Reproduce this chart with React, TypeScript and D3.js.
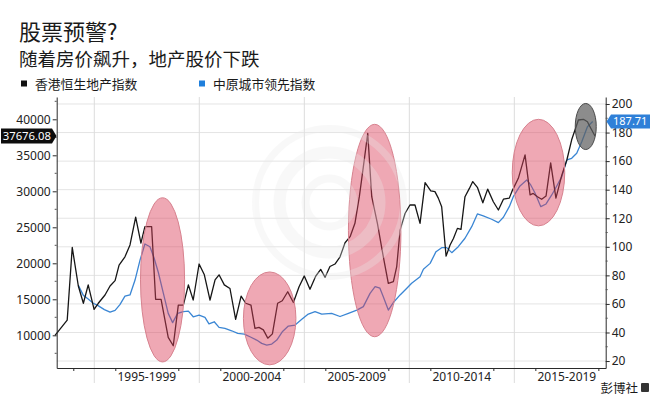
import React, { useEffect, useRef } from "react";
import * as d3 from "d3";

// 香港恒生地产指数 (left axis)
const hsYears = [
  1993.13, 1993.71, 1993.95, 1994.24, 1994.48, 1994.71, 1994.99, 1995.19, 1995.51, 1995.75,
  1995.99, 1996.18, 1996.46, 1996.7, 1996.97, 1997.22, 1997.41, 1997.73, 1997.92, 1998.18,
  1998.52, 1998.76, 1999.0, 1999.24, 1999.48, 1999.71, 1999.99, 2000.24, 2000.51, 2000.75,
  2000.94, 2001.19, 2001.46, 2001.73, 2001.99, 2002.21, 2002.46, 2002.65, 2002.84, 2003.05,
  2003.26, 2003.48, 2003.73, 2003.95, 2004.21, 2004.48, 2004.75, 2005.0, 2005.27, 2005.54,
  2005.78, 2005.99, 2006.22, 2006.46, 2006.7, 2006.94, 2007.18, 2007.41, 2007.62, 2007.81,
  2008.02, 2008.21, 2008.48, 2008.73, 2009.0, 2009.24, 2009.4, 2009.56, 2009.8, 2010.03,
  2010.27, 2010.51, 2010.75, 2011.02, 2011.22, 2011.38, 2011.54, 2011.75, 2011.94, 2012.1,
  2012.29, 2012.46, 2012.65, 2012.86, 2013.02, 2013.24, 2013.5, 2013.73, 2014.0, 2014.24,
  2014.48, 2014.76, 2014.88, 2015.19, 2015.51, 2015.75, 2015.9, 2016.1, 2016.3, 2016.51,
  2016.73, 2016.98, 2017.26, 2017.5, 2017.73, 2018.05, 2018.29, 2018.48, 2018.64, 2018.84,
];
const hsValues = [
  10000, 12100, 22200, 16850, 14450, 17000, 13600, 14450, 15600, 16850,
  17600, 19750, 20900, 22550, 26400, 22800, 25100, 25100, 15000, 15000,
  9700, 8550, 14200, 14200, 17000, 14900, 19900, 18400, 14900, 17700,
  18400, 17000, 16500, 12200, 15450, 14450, 14200, 10950, 11100, 10750,
  9600, 10200, 14450, 14800, 16050, 14550, 16750, 18250, 16400, 18200,
  19150, 18050, 19550, 19900, 20900, 22850, 23700, 25550, 29250, 33400,
  38050, 29250, 25550, 21400, 17200, 17450, 19550, 24600, 26950, 28100,
  28100, 25550, 31200, 30050, 29950, 29050, 27850, 21000, 22550, 23450,
  24850, 24700, 29250, 30400, 31350, 30550, 28400, 30300, 28550, 27400,
  28900, 29050, 29950, 31800, 35050, 29500, 29700, 29250, 28900, 29350,
  33950, 29050, 32250, 34350, 37150, 39900, 40000, 39650, 38750, 37676.08,
];

// 中原城市领先指数 (right axis)
const clYears = [
  1994.24, 1994.48, 1994.71, 1994.95, 1995.16, 1995.48, 1995.75, 1995.99, 1996.22, 1996.46,
  1996.7, 1996.94, 1997.18, 1997.41, 1997.65, 1997.84, 1998.05, 1998.29, 1998.52, 1998.73,
  1998.97, 1999.24, 1999.48, 1999.71, 1999.99, 2000.27, 2000.46, 2000.71, 2000.94, 2001.22,
  2001.54, 2001.83, 2002.14, 2002.41, 2002.73, 2002.97, 2003.21, 2003.45, 2003.69, 2003.95,
  2004.24, 2004.56, 2004.88, 2005.19, 2005.51, 2005.83, 2006.3, 2006.7, 2007.1, 2007.5,
  2007.81, 2008.13, 2008.37, 2008.6, 2008.76, 2009.0, 2009.24, 2009.56, 2009.88, 2010.11,
  2010.51, 2010.67, 2010.99, 2011.27, 2011.54, 2011.78, 2012.02, 2012.33, 2012.65, 2012.97,
  2013.24, 2013.52, 2013.92, 2014.24, 2014.48, 2014.76, 2014.95, 2015.27, 2015.59, 2015.78,
  2015.99, 2016.26, 2016.51, 2016.78, 2017.02, 2017.26, 2017.5, 2017.73, 2017.97, 2018.21,
  2018.48, 2018.73,
];
const clValues = [
  73, 66, 63.5, 60.5, 59, 56, 54.2, 55.5, 59.5, 65.5,
  66.3, 76.7, 90.8, 102, 100, 92.5, 82, 67.4, 53.4, 46.9,
  53.4, 54.6, 55, 51, 52.2, 50.6, 46, 47.5, 43.6, 42.9,
  41.2, 39.4, 38.9, 37, 34.7, 32.4, 31.2, 31.9, 34.7, 40.5,
  44.5, 45.2, 49.2, 52.9, 54.6, 52.9, 53.4, 51.2, 53.4, 55.7,
  58.1, 67.4, 72.1, 71, 65.1, 55.7, 61, 66.3, 71, 74.5,
  79.1, 84.3, 88.4, 96.6, 99.4, 99.4, 95.9, 100.1, 106, 114.1,
  123, 121.6, 119.3, 116.9, 120.7, 128.1, 135.1, 142.6, 146.8, 143.3,
  137.5, 128.1, 130, 136.3, 142.6, 149.1, 160.8, 162, 165.5, 173.6,
  184.1, 187.71,
];

const leftTicks = [10000, 15000, 20000, 25000, 30000, 35000, 40000];
const leftMinor = [7500, 12500, 17500, 22500, 27500, 32500, 37500, 42500];
const rightTicks = [20, 40, 60, 80, 100, 120, 140, 160, 180, 200];
const rightMinor = [30, 50, 70, 90, 110, 130, 150, 170, 190];
const periodStarts = [1995, 2000, 2005, 2010, 2015];
const periodLabels = ["1995-1999", "2000-2004", "2005-2009", "2010-2014", "2015-2019"];
const yearMarks = [1994, 1996, 1999, 2001, 2004, 2006, 2009, 2011, 2014, 2016, 2019];

// highlighted periods: [from year, to year, high, low] in left-axis units
const pinkPeriods = [
  [1997.2, 1999.3, 29100, 6300],
  [2002.1, 2004.6, 18800, 5900],
  [2007.1, 2009.6, 39300, 9800],
  [2014.9, 2017.4, 40000, 25200],
];
const latestPeriod = [2017.9, 2018.9, 42200, 35800];

const CJK = "'Noto Sans CJK SC', 'Noto Sans', sans-serif";
const NUM = "'Noto Sans', 'DejaVu Sans', sans-serif";

const App: React.FC = () => {
  const svgRef = useRef<SVGSVGElement>(null);

  useEffect(() => {
    if (!svgRef.current) return;
    const svg = d3.select(svgRef.current);
    svg.selectAll("*").remove();

    const left = 56.7, right = 605.7, top = 97, bottom = 368;

    const x = d3.scaleLinear().domain([1993.21, 2019.35]).range([left, right]);
    const yL = d3.scaleLinear().domain([5458, 43097]).range([bottom, top]);
    const yR = d3.scaleLinear().domain([15.13, 204.9]).range([bottom, top]);

    // Titles
    svg.append("text").attr("x", 19).attr("y", 39.5)
      .attr("font-family", CJK).attr("font-size", 22).attr("fill", "#1a1a1a")
      .text("股票预警?");
    svg.append("text").attr("x", 19).attr("y", 66)
      .attr("font-family", CJK).attr("font-size", 18.5).attr("fill", "#1a1a1a")
      .text("随着房价飙升，地产股价下跌");

    // Legend
    const legend = [
      { label: "香港恒生地产指数", color: "#111", x: 21 },
      { label: "中原城市领先指数", color: "#1f7fdc", x: 199 },
    ];
    legend.forEach(l => {
      svg.append("rect").attr("x", l.x).attr("y", 80.5).attr("width", 6).attr("height", 6)
        .attr("fill", l.color);
      svg.append("text").attr("x", l.x + 14).attr("y", 89)
        .attr("font-family", CJK).attr("font-size", 12.8).attr("fill", "#1a1a1a")
        .text(l.label);
    });

    // Horizontal grid (right axis)
    svg.append("g").selectAll("line").data(rightTicks).enter().append("line")
      .attr("x1", left).attr("x2", right)
      .attr("y1", d => yR(d)).attr("y2", d => yR(d))
      .attr("stroke", "#e4e4e4").attr("stroke-width", 1);

    // Vertical period separators
    svg.append("g").selectAll("line").data(periodStarts).enter().append("line")
      .attr("x1", d => x(d)).attr("x2", d => x(d))
      .attr("y1", top).attr("y2", bottom + 15)
      .attr("stroke", "#dcdcdc").attr("stroke-width", 1);

    // Lines
    const hsData = hsYears.map((t, i) => [t, hsValues[i]] as [number, number]);
    const clData = clYears.map((t, i) => [t, clValues[i]] as [number, number]);

    svg.append("path").datum(clData)
      .attr("fill", "none").attr("stroke", "#3a86d4").attr("stroke-width", 1.3)
      .attr("stroke-linejoin", "round")
      .attr("d", d3.line<[number, number]>().x(d => x(d[0])).y(d => yR(d[1])));

    svg.append("path").datum(hsData)
      .attr("fill", "none").attr("stroke", "#161616").attr("stroke-width", 1.3)
      .attr("stroke-linejoin", "round")
      .attr("d", d3.line<[number, number]>().x(d => x(d[0])).y(d => yL(d[1])));

    // Highlight ellipses
    pinkPeriods.forEach(([a, b, hi, lo]) => {
      svg.append("ellipse")
        .attr("cx", (x(a) + x(b)) / 2).attr("cy", (yL(hi) + yL(lo)) / 2)
        .attr("rx", (x(b) - x(a)) / 2).attr("ry", (yL(lo) - yL(hi)) / 2)
        .attr("fill", "rgb(220,62,88)").attr("fill-opacity", 0.45)
        .attr("stroke", "#d7828f").attr("stroke-width", 1);
    });
    {
      const [a, b, hi, lo] = latestPeriod;
      svg.append("ellipse")
        .attr("cx", (x(a) + x(b)) / 2).attr("cy", (yL(hi) + yL(lo)) / 2)
        .attr("rx", (x(b) - x(a)) / 2).attr("ry", (yL(lo) - yL(hi)) / 2)
        .attr("fill", "rgb(95,95,95)").attr("fill-opacity", 0.72)
        .attr("stroke", "#4a4a4a").attr("stroke-width", 1);
    }

    // Faint watermark
    const wm = svg.append("g").attr("opacity", 0.3).attr("fill", "none").attr("stroke", "#eaeaea");
    const wcx = x(2006.2), wcy = (top + bottom) / 2 - 30;
    wm.append("circle").attr("cx", wcx).attr("cy", wcy).attr("r", 74).attr("stroke-width", 7);
    wm.append("circle").attr("cx", wcx).attr("cy", wcy).attr("r", 50).attr("stroke-width", 12);
    wm.append("circle").attr("cx", wcx).attr("cy", wcy).attr("r", 24).attr("stroke-width", 8);

    // Axes
    const styleAxis = (g: d3.Selection<SVGGElement, unknown, null, undefined>) => {
      g.attr("font-family", NUM).attr("font-size", 12);
      g.selectAll("path.domain").attr("stroke", "#2a2a2a");
      g.selectAll(".tick line").attr("stroke", "#2a2a2a");
      g.selectAll(".tick text").attr("fill", "#222");
    };

    const gL = svg.append("g").attr("transform", `translate(${left},0)`)
      .call(d3.axisLeft(yL).tickValues(leftTicks).tickSize(4).tickSizeOuter(0).tickPadding(2)
        .tickFormat(d => String(d)));
    styleAxis(gL);
    gL.selectAll("line.minor").data(leftMinor).enter().append("line")
      .attr("x1", 0).attr("x2", -2).attr("y1", d => yL(d)).attr("y2", d => yL(d))
      .attr("stroke", "#555");

    const gR = svg.append("g").attr("transform", `translate(${right},0)`)
      .call(d3.axisRight(yR).tickValues(rightTicks).tickSize(4).tickSizeOuter(0).tickPadding(2));
    styleAxis(gR);
    gR.selectAll("line.minor").data(rightMinor).enter().append("line")
      .attr("x1", 0).attr("x2", 2).attr("y1", d => yR(d)).attr("y2", d => yR(d))
      .attr("stroke", "#555");

    const gB = svg.append("g").attr("transform", `translate(0,${bottom})`)
      .call(d3.axisBottom(x).tickValues(yearMarks).tickSize(3).tickSizeOuter(0)
        .tickFormat(() => ""));
    styleAxis(gB);
    gB.selectAll("text.period").data(periodLabels).enter().append("text")
      .attr("x", (_, i) => x(periodStarts[i] + 2.5)).attr("y", 12.5)
      .attr("text-anchor", "middle").attr("fill", "#222")
      .attr("font-family", NUM).attr("font-size", 12)
      .text(d => d);

    // Last value tags
    const lastHs = hsValues[hsValues.length - 1];
    const yh = yL(lastHs);
    svg.append("path")
      .attr("d", `M1,${yh - 7.5}H52L56.5,${yh}L52,${yh + 7.5}H1Z`)
      .attr("fill", "#0d0d0d");
    svg.append("text").attr("x", 51).attr("y", yh + 4)
      .attr("text-anchor", "end")
      .attr("font-family", NUM).attr("font-size", 11.3).attr("fill", "#fff")
      .text(d3.format(".2f")(lastHs));

    const lastCl = clValues[clValues.length - 1];
    const yc = yR(lastCl);
    svg.append("path")
      .attr("d", `M606.5,${yc}L611,${yc - 7}H650V${yc + 7}H611Z`)
      .attr("fill", "#2f80d8");
    svg.append("text").attr("x", 613).attr("y", yc + 3.8)
      .attr("font-family", NUM).attr("font-size", 11).attr("fill", "#fff")
      .text(d3.format(".2f")(lastCl));

    // Source
    svg.append("text").attr("x", 638).attr("y", 393).attr("text-anchor", "end")
      .attr("font-family", CJK).attr("font-size", 12.5).attr("fill", "#1a1a1a")
      .text("彭博社");
    svg.append("rect").attr("x", 641).attr("y", 383).attr("width", 8).attr("height", 9)
      .attr("rx", 1).attr("fill", "#333");
  }, []);

  return (
    <svg
      ref={svgRef}
      width={650}
      height={398}
      style={{ position: "absolute", left: 0, top: 0, background: "#fff" }}
    />
  );
};

export default App;
